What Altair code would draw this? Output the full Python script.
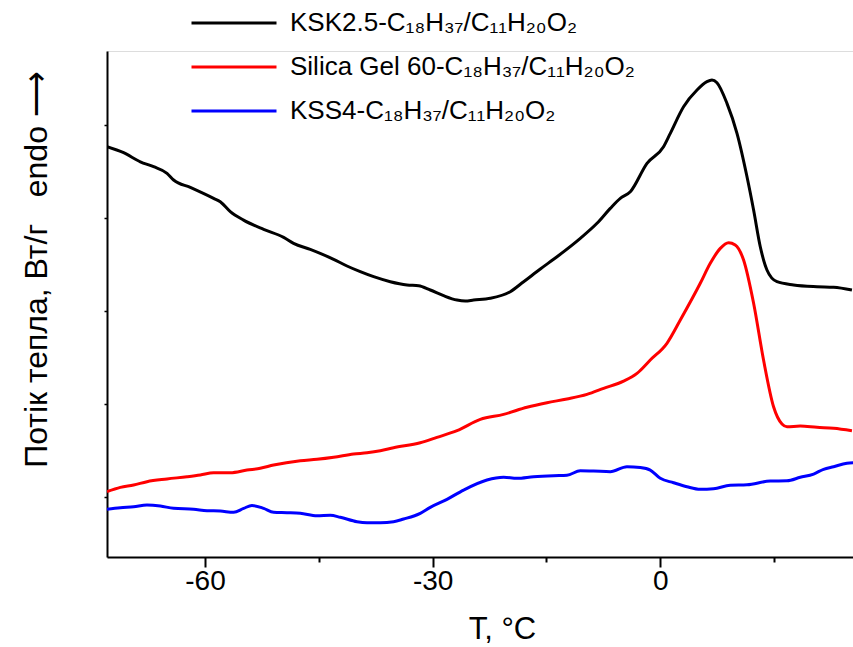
import altair as alt
import pandas as pd

# KSK2.5 (black)
ksk_t = [-72.92, -70.73, -68.53, -66.78, -65.01, -64.14, -61.94, -58.87, -57.99, -56.67,
         -54.92, -52.28, -49.64, -48.33, -46.13, -43.05, -41.29, -39.54, -37.78, -35.58,
         -33.38, -31.85, -30.31, -28.56, -26.79, -25.70, -24.60, -22.40, -19.77, -18.01,
         -15.81, -13.61, -10.54, -8.34, -6.59, -5.27, -3.95, -1.75, 0.43, 1.32,
         3.07, 4.84, 6.15, 6.81, 7.47, 8.79, 10.11, 11.43, 12.30, 13.18,
         14.06, 15.38, 17.57, 20.65, 22.84, 25.26]
ksk_v = [3.767, 3.702, 3.605, 3.552, 3.481, 3.409, 3.330, 3.212, 3.175, 3.068,
         2.978, 2.878, 2.792, 2.728, 2.663, 2.556, 2.484, 2.423, 2.369, 2.315,
         2.280, 2.272, 2.226, 2.165, 2.118, 2.108, 2.118, 2.137, 2.208, 2.315,
         2.452, 2.584, 2.782, 2.943, 3.104, 3.212, 3.283, 3.588, 3.767, 3.911,
         4.197, 4.376, 4.466, 4.484, 4.455, 4.233, 3.911, 3.444, 3.086, 2.691,
         2.441, 2.315, 2.280, 2.261, 2.255, 2.226]

# Silica Gel 60 (red)
sg_t = [-72.92, -71.16, -69.41, -67.65, -65.01, -62.38, -60.62, -58.87, -56.67, -54.47,
        -52.72, -50.96, -47.44, -45.24, -43.05, -40.42, -38.65, -36.90, -35.15, -31.63,
        -29.43, -26.79, -23.72, -20.65, -17.57, -14.93, -12.30, -9.66, -7.47, -4.84,
        -3.07, -1.32, 0.88, 2.64, 5.27, 6.59, 7.91, 9.00, 9.88, 10.98,
        12.30, 13.61, 14.93, 16.04, 16.70, 18.45, 20.65, 22.84, 25.26]
sg_v = [0.057, 0.104, 0.129, 0.165, 0.194, 0.218, 0.237, 0.261, 0.261, 0.290,
        0.309, 0.344, 0.390, 0.405, 0.427, 0.462, 0.476, 0.498, 0.530, 0.584,
        0.642, 0.713, 0.835, 0.889, 0.965, 1.014, 1.054, 1.104, 1.169, 1.247,
        1.330, 1.473, 1.653, 1.903, 2.298, 2.513, 2.674, 2.734, 2.710, 2.548,
        2.083, 1.473, 0.971, 0.785, 0.756, 0.763, 0.749, 0.739, 0.713]

# KSS4 (blue)
kss_t = [-72.92, -71.16, -69.41, -67.65, -65.89, -64.14, -61.50, -59.74, -57.99, -56.23,
         -54.91, -53.81, -52.28, -50.96, -49.20, -47.44, -45.24, -43.49, -42.17, -39.97,
         -38.65, -36.90, -35.15, -33.83, -31.63, -30.31, -28.11, -25.92, -22.84, -20.65,
         -18.89, -16.70, -14.06, -12.30, -10.54, -8.79, -6.59, -4.39, -2.64, -1.32,
         0.00, 1.75, 3.52, 5.27, 7.02, 9.22, 11.43, 14.50, 16.70, 18.45,
         20.21, 21.52, 22.84, 24.60, 25.43]
kss_v = [-0.132, -0.115, -0.104, -0.086, -0.097, -0.122, -0.132, -0.147, -0.151, -0.165,
         -0.122, -0.091, -0.122, -0.165, -0.169, -0.175, -0.201, -0.197, -0.218, -0.266,
         -0.276, -0.276, -0.266, -0.237, -0.175, -0.111, -0.025, 0.075, 0.183, 0.212,
         0.201, 0.218, 0.229, 0.233, 0.283, 0.280, 0.272, 0.326, 0.317, 0.290,
         0.201, 0.154, 0.111, 0.083, 0.089, 0.126, 0.132, 0.172, 0.175, 0.212,
         0.247, 0.298, 0.326, 0.362, 0.369]

series_names = [
    "KSK2.5-C₁₈H₃₇/C₁₁H₂₀O₂",
    "Silica Gel 60-C₁₈H₃₇/C₁₁H₂₀O₂",
    "KSS4-C₁₈H₃₇/C₁₁H₂₀O₂",
]
series_colors = ["#000000", "#ff0000", "#0000ff"]

x_ticks = [-60, -45, -30, -15, 0, 15]
y_ticks = [0, 1, 2, 3, 4]

rows = []
for name, ts, vs in zip(series_names, [ksk_t, sg_t, kss_t], [ksk_v, sg_v, kss_v]):
    for i, (t, v) in enumerate(zip(ts, vs)):
        rows.append({"series": name, "T": t, "v": v, "order": i})
df = pd.DataFrame(rows)

FONT = "Liberation Sans"
NB = "\u00a0"

chart = alt.Chart(df).mark_line(strokeWidth=3, clip=True, interpolate="monotone").encode(
    x=alt.X("T:Q",
            scale=alt.Scale(domain=[-72.92, 25.4], nice=False, zero=False),
            axis=alt.Axis(
                values=x_ticks,
                title="T, °C",
                grid=False,
                domainColor="black", domainWidth=2,
                tickColor="black", tickWidth=2,
                tickSize={"condition": {"test": "datum.value % 30 === 0", "value": 10}, "value": 5},
                labelExpr="datum.value % 30 === 0 ? toString(datum.value) : ''",
                labelFont=FONT, labelFontSize=28, labelColor="black",
                labelBaseline="alphabetic", labelPadding=22,
                titleFont=FONT, titleFontSize=31, titleFontWeight="normal", titleColor="black",
                titleX=395, titleY=81, titleBaseline="alphabetic", titleAnchor="middle",
            )),
    y=alt.Y("v:Q",
            scale=alt.Scale(domain=[-0.645, 4.796], nice=False, zero=False),
            axis=alt.Axis(
                values=y_ticks,
                labels=False,
                grid=False,
                title="Потік тепла, Вт/г" + NB * 3 + "endo" + NB + "⟶",
                domainColor="black", domainWidth=2,
                tickColor="black", tickWidth=1.5, tickSize=3,
                titleFont=FONT, titleFontSize=32, titleFontWeight="normal", titleColor="black",
                titleX=-61, titleY=218, titleAngle=270, titleAlign="center",
                titleBaseline="alphabetic",
            )),
    color=alt.Color("series:N",
                    scale=alt.Scale(domain=series_names, range=series_colors),
                    sort=series_names,
                    legend=alt.Legend(
                        title=None, orient="none", legendX=83, legendY=-50,
                        symbolType="stroke", symbolSize=7225, symbolStrokeWidth=3,
                        labelFont=FONT, labelFontSize=26, labelColor="black",
                        labelOffset=12, labelLimit=0, clipHeight=44, rowPadding=0,
                        padding=0,
                    )),
    order="order:Q",
).properties(
    width=746, height=506,
    autosize=alt.AutoSizeParams(type="none"),
    padding={"left": 107, "top": 51, "right": 0, "bottom": 90},
).configure_view(stroke=None).configure(background="white")

chart.save("out.html", embed_options={"renderer": "svg", "actions": False})
